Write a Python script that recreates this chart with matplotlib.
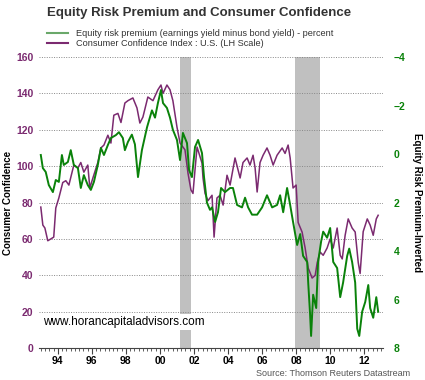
import matplotlib
matplotlib.use('Agg')
import matplotlib.pyplot as plt
from matplotlib.ticker import MultipleLocator, FixedLocator
from matplotlib.lines import Line2D

plt.rcParams['font.family'] = ['Liberation Sans', 'DejaVu Sans']

# consumer confidence (left scale), decimal years
cci_years = [1993.0, 1993.12, 1993.24, 1993.41, 1993.59, 1993.76, 1993.88, 1994.06, 1994.29, 1994.47,
             1994.65, 1994.94, 1995.18, 1995.35, 1995.53, 1995.76, 1995.88, 1996.06, 1996.35, 1996.53,
             1996.71, 1996.94, 1997.12, 1997.29, 1997.53, 1997.71, 1997.94, 1998.12, 1998.41, 1998.65,
             1998.82, 1999.0, 1999.29, 1999.59, 1999.88, 2000.06, 2000.18, 2000.41, 2000.59, 2000.76,
             2001.0, 2001.18, 2001.47, 2001.65, 2001.82, 2001.94, 2002.06, 2002.18, 2002.47, 2002.53,
             2002.65, 2002.82, 2003.06, 2003.18, 2003.35, 2003.53, 2003.71, 2003.94, 2004.12, 2004.41,
             2004.71, 2004.88, 2005.12, 2005.29, 2005.47, 2005.59, 2005.71, 2005.88, 2006.06, 2006.29,
             2006.47, 2006.65, 2006.88, 2007.18, 2007.35, 2007.53, 2007.65, 2007.82, 2008.0, 2008.12,
             2008.35, 2008.53, 2008.71, 2008.94, 2009.12, 2009.24, 2009.41, 2009.59, 2009.82, 2010.0,
             2010.18, 2010.41, 2010.59, 2010.71, 2010.88, 2011.06, 2011.29, 2011.47, 2011.65, 2011.76,
             2011.94, 2012.18, 2012.35, 2012.53, 2012.71, 2012.82]
cci = [77.5, 67.6, 66, 59, 60, 61, 77, 82.5, 91, 92,
       89.6, 100.6, 99, 102, 96.7, 100.6, 88, 93.5, 102, 110,
       111.6, 117, 112.7, 128, 129, 124, 134.7, 136, 137.5, 132,
       123.7, 127, 138, 136, 142, 144.6, 140, 144.6, 142, 136,
       121.5, 112.7, 109, 96, 87, 85, 98, 110.5, 101.7, 93.5,
       85, 81, 84, 61, 82.5, 84, 78.6, 95, 89.6, 104.5,
       93.5, 102, 104.5, 100.6, 106, 99, 85.8, 102, 106, 110,
       106, 100.6, 106, 110, 107, 111.6, 104.5, 88, 89.6, 69,
       63.8, 55, 44, 38.5, 40, 47, 52.8, 51, 55, 60,
       55, 66, 51, 49, 62, 71, 66, 63.8, 47, 41,
       64, 71, 67.6, 62, 71, 73]

# equity risk premium, percent (right scale, inverted)
erp_years = [1993.0, 1993.12, 1993.29, 1993.47, 1993.71, 1993.88, 1994.06, 1994.24, 1994.35, 1994.59,
             1994.76, 1994.94, 1995.18, 1995.35, 1995.53, 1995.76, 1995.94, 1996.12, 1996.35, 1996.53,
             1996.71, 1996.94, 1997.12, 1997.41, 1997.59, 1997.82, 1997.94, 1998.12, 1998.35, 1998.53,
             1998.71, 1998.94, 1999.24, 1999.53, 1999.71, 1999.88, 2000.06, 2000.18, 2000.41, 2000.59,
             2000.76, 2001.0, 2001.18, 2001.35, 2001.59, 2001.71, 2001.88, 2002.06, 2002.24, 2002.47,
             2002.59, 2002.76, 2002.94, 2003.06, 2003.24, 2003.41, 2003.59, 2003.82, 2004.12, 2004.29,
             2004.53, 2004.82, 2005.0, 2005.18, 2005.41, 2005.71, 2006.0, 2006.29, 2006.59, 2006.88,
             2007.06, 2007.24, 2007.47, 2007.65, 2007.82, 2008.06, 2008.24, 2008.41, 2008.65, 2008.71,
             2008.82, 2008.88, 2009.0, 2009.18, 2009.29, 2009.47, 2009.59, 2009.82, 2010.0, 2010.18,
             2010.41, 2010.59, 2010.76, 2011.0, 2011.12, 2011.29, 2011.47, 2011.59, 2011.71, 2011.88,
             2012.06, 2012.24, 2012.35, 2012.53, 2012.71, 2012.82]
erp = [0.04, 0.58, 0.74, 1.28, 1.57, 1.07, 1.15, 0.04, 0.45, 0.33,
       -0.16, 0.45, 0.58, 1.4, 0.87, 1.28, 1.48, 1.15, 0.45, -0.25,
       0.04, -0.37, -0.66, -0.78, -0.9, -0.66, -0.16, -0.5, -0.8, -0.4,
       0.95, -0.16, -1.1, -1.8, -1.5, -2.1, -2.64, -2.1, -1.9, -1.5,
       -1.0, -0.58, 0.25, -0.87, -0.45, 0.66, 0.95, -0.29, -0.58, -0.04,
       0.95, 2.0, 2.3, 2.2, 2.8, 2.4, 1.4, 1.57, 1.4, 1.4,
       2.1, 2.2, 1.8, 2.2, 2.5, 2.5, 2.2, 1.7, 2.2, 2.1,
       1.7, 2.4, 1.4, 2.1, 2.8, 3.75, 3.3, 4.2, 4.45, 5.3,
       6.6, 7.5, 5.8, 6.35, 4.45, 3.6, 3.2, 3.45, 3.05, 4.45,
       4.7, 5.9, 5.3, 4.2, 3.9, 4.45, 5.3, 7.2, 7.5, 6.5,
       6.1, 5.4, 6.35, 6.75, 5.9, 6.5]

recessions = [(2001.17, 2001.83), (2007.92, 2009.42)]
year_ticks = [1994, 1996, 1998, 2000, 2002, 2004, 2006, 2008, 2010, 2012]
year_labels = ['94', '96', '98', '00', '02', '04', '06', '08', '10', '12']

purple = '#7b2a70'
green = '#0a820a'

fig = plt.figure(figsize=(4.25, 3.8), dpi=100)
ax = fig.add_axes([0.092, 0.084, 0.809, 0.766])
ax2 = ax.twinx()

for a, b in recessions:
    ax.axvspan(a, b, color='#c0c0c0', lw=0, zorder=0)

ax.plot(cci_years, cci, color=purple, lw=1.1, zorder=3)
ax2.plot(erp_years, erp, color=green, lw=1.4)

ax.set_xlim(1992.9, 2013.1)
ax.set_ylim(0, 160)
ax2.set_ylim(8, -4)
ax.yaxis.set_major_locator(MultipleLocator(20))
ax2.yaxis.set_major_locator(MultipleLocator(2))
ax.xaxis.set_major_locator(FixedLocator(year_ticks))
ax.set_xticklabels(year_labels)
ax.xaxis.set_minor_locator(MultipleLocator(0.25))

ax.grid(axis='y', color='#888888', ls=(0, (1, 1.5)), lw=0.7)
ax.set_axisbelow(True)

for s in ['left', 'right', 'top']:
    ax.spines[s].set_visible(False)
    ax2.spines[s].set_visible(False)
ax2.spines['bottom'].set_visible(False)
ax.spines['bottom'].set_color('#444444')

ax.tick_params(axis='y', length=0, labelsize=7.5, labelcolor=purple, pad=4)
ax2.tick_params(axis='y', length=0, labelsize=7.5, labelcolor=green, pad=8)
ax.tick_params(axis='x', which='major', length=4, labelsize=7.5, pad=2, color='#444444')
ax.tick_params(axis='x', which='minor', length=2, color='#444444')
for lab in ax.get_yticklabels() + ax2.get_yticklabels() + ax.get_xticklabels():
    lab.set_fontweight('bold')

fig.text(0.02, 0.467, 'Consumer Confidence', fontsize=7, fontweight='bold',
         rotation=90, ha='center', va='center')
ax2.set_ylabel('Equity Risk Premium-Inverted', fontsize=7, fontweight='bold',
               rotation=270, labelpad=12)

ax.text(0.01, 0.09, 'www.horancapitaladvisors.com', transform=ax.transAxes, fontsize=8.5,
        va='center', ha='left', zorder=5,
        bbox=dict(facecolor='white', edgecolor='none', pad=1.5))

fig.text(0.468, 0.966, 'Equity Risk Premium and Consumer Confidence', fontsize=9.5,
         fontweight='bold', color='#333333', va='center', ha='center')

handles = [Line2D([], [], color='#6aa86a', lw=1.5), Line2D([], [], color=purple, lw=1.5)]
fig.legend(handles, ['Equity risk premium (earnings yield minus bond yield) - percent',
                     'Consumer Confidence Index : U.S. (LH Scale)'],
           loc='upper left', bbox_to_anchor=(0.1, 0.935), frameon=False, fontsize=6.6,
           handlelength=2.3, handletextpad=0.8, labelspacing=0.1, borderpad=0,
           labelcolor='#333333')

fig.text(0.965, 0.004, 'Source: Thomson Reuters Datastream', fontsize=6.5, color='#555555',
         ha='right', va='bottom')

fig.savefig('out.png', dpi=100)
